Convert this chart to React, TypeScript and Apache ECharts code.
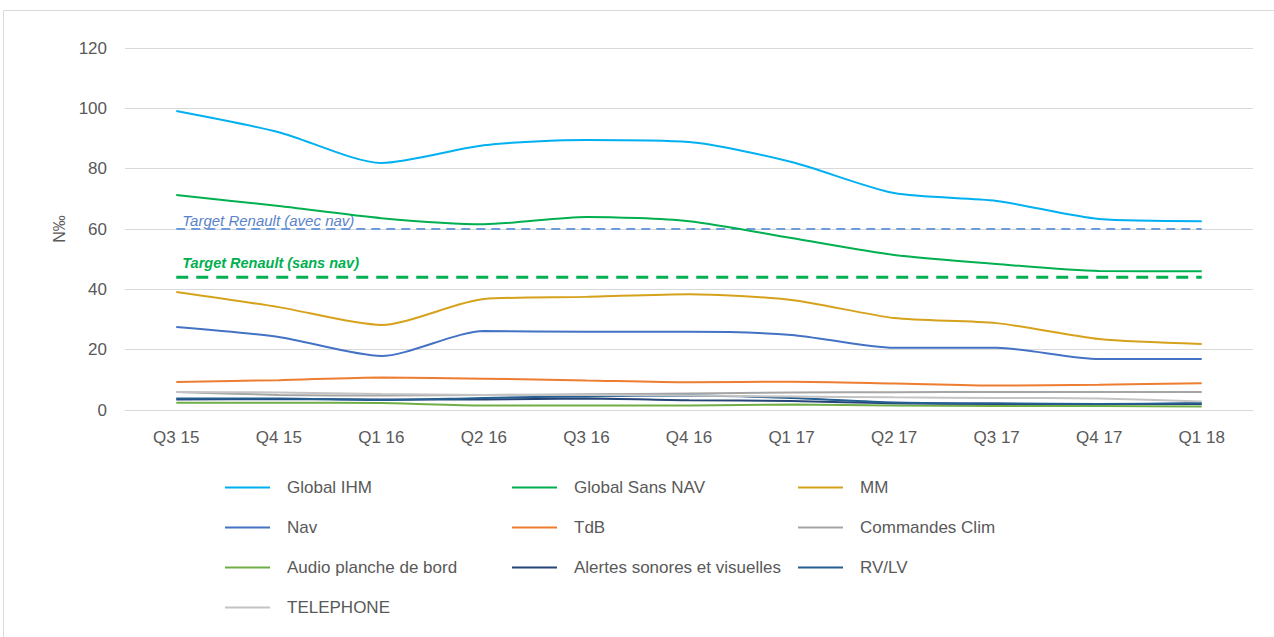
import React, { useEffect, useRef } from "react";
import * as echarts from "echarts";

const categories = ["Q3 15", "Q4 15", "Q1 16", "Q2 16", "Q3 16", "Q4 16", "Q1 17", "Q2 17", "Q3 17", "Q4 17", "Q1 18"];

const globalIHM = [99.1, 92.1, 81.9, 87.8, 89.5, 88.8, 82.2, 71.9, 69.3, 63.3, 62.6];
const globalSansNAV = [71.3, 67.6, 63.6, 61.6, 64.0, 62.6, 57.0, 51.4, 48.4, 46.1, 46.0];
const mm = [39.1, 34.1, 28.2, 36.8, 37.5, 38.4, 36.5, 30.5, 28.8, 23.5, 21.9];
const nav = [27.5, 24.2, 17.9, 26.2, 25.9, 25.9, 24.9, 20.6, 20.6, 16.9, 16.9];
const tdb = [9.3, 9.9, 10.8, 10.4, 9.8, 9.2, 9.4, 8.8, 8.1, 8.4, 8.9];
const commandesClim = [6.0, 5.0, 4.8, 5.0, 5.2, 5.5, 5.8, 5.9, 6.0, 6.0, 6.0];
const audio = [2.4, 2.4, 2.3, 1.5, 1.5, 1.5, 1.8, 1.5, 1.3, 1.3, 1.2];
const alertes = [3.5, 3.6, 3.5, 3.5, 3.8, 3.2, 3.0, 2.2, 2.0, 2.0, 2.0];
const rvlv = [3.8, 3.8, 3.3, 4.0, 4.5, 4.8, 4.0, 2.5, 2.2, 2.0, 2.3];
const telephone = [6.0, 5.8, 5.3, 5.0, 5.0, 4.8, 4.5, 4.2, 4.0, 3.8, 2.8];

const targetAvecNav = 60;
const targetSansNav = 44;
const targetAvecLabel = "Target Renault (avec nav)";
const targetSansLabel = "Target Renault (sans nav)";

const yTicks = { min: 0, max: 120, interval: 20 };

const legendCol1 = ["Global IHM", "Nav", "Audio planche de bord", "TELEPHONE"];
const legendCol2 = ["Global Sans NAV", "TdB", "Alertes sonores et visuelles"];
const legendCol3 = ["MM", "Commandes Clim", "RV/LV"];

const FONT = "'Liberation Sans', Arial, sans-serif";
const TXT = "#595959";

export default function App() {
  const ref = useRef<HTMLDivElement>(null);
  useEffect(() => {
    if (!ref.current) return;
    const chart = echarts.init(ref.current, null, { renderer: "svg" });
    const line = (name: string, data: number[], color: string, width = 2) => ({
      name,
      type: "line",
      data,
      smooth: 0.25,
      symbol: "none",
      lineStyle: { color, width },
      itemStyle: { color },
    });
    const target = (name: string, value: number, color: string, width: number, dash: number[]) => ({
      name,
      type: "line",
      symbol: "none",
      lineStyle: { color, width, type: dash },
      itemStyle: { color },
      data: categories.map(() => value),
      z: 1,
    });
    const legendBase = {
      orient: "vertical",
      icon: "rect",
      itemWidth: 45,
      itemHeight: 2,
      itemGap: 19,
      top: 477,
      padding: 0,
      textStyle: { color: TXT, fontSize: 17, fontFamily: FONT, padding: [0, 0, 0, 12], lineHeight: 21 },
    };
    const border = {
      type: "rect",
      shape: { x: 3.5, y: 10.5, width: 1290, height: 660 },
      style: { fill: "none", stroke: "#D9D9D9", lineWidth: 1 },
      silent: true,
    };
    chart.setOption({
      animation: false,
      backgroundColor: "#ffffff",
      graphic: [border],
      grid: { left: 125, right: 21, top: 48, bottom: 227 },
      legend: [
        { ...legendBase, left: 225, data: legendCol1 },
        { ...legendBase, left: 512, data: legendCol2 },
        { ...legendBase, left: 798, data: legendCol3 },
      ],
      xAxis: {
        type: "category",
        data: categories,
        boundaryGap: true,
        axisLine: { lineStyle: { color: "#D9D9D9", width: 1 } },
        axisTick: { show: false },
        axisLabel: { color: TXT, fontSize: 17, fontFamily: FONT, margin: 19 },
      },
      yAxis: {
        type: "value",
        min: yTicks.min,
        max: yTicks.max,
        interval: yTicks.interval,
        name: "N‰",
        nameLocation: "middle",
        nameGap: 58,
        nameRotate: 90,
        nameTextStyle: { color: TXT, fontSize: 16, fontFamily: FONT },
        axisLine: { show: false },
        axisTick: { show: false },
        axisLabel: { color: TXT, fontSize: 17, fontFamily: FONT, margin: 18 },
        splitLine: { lineStyle: { color: "#D9D9D9", width: 1 } },
      },
      series: [
        target(targetAvecLabel, targetAvecNav, "#6F9BDB", 2, [9, 6]),
        target(targetSansLabel, targetSansNav, "#00B050", 3, [12, 8]),
        line("Global IHM", globalIHM, "#00B0F0"),
        line("Global Sans NAV", globalSansNAV, "#00B050"),
        line("MM", mm, "#D6A21C"),
        line("Nav", nav, "#4472C4"),
        line("TdB", tdb, "#ED7D31"),
        line("Commandes Clim", commandesClim, "#A5A5A5"),
        line("Audio planche de bord", audio, "#70AD47"),
        line("Alertes sonores et visuelles", alertes, "#264478"),
        line("RV/LV", rvlv, "#255E91"),
        line("TELEPHONE", telephone, "#C4C4C4"),
      ],
    });
    const pA = chart.convertToPixel({ gridIndex: 0 }, [0, targetAvecNav]) as number[];
    const pS = chart.convertToPixel({ gridIndex: 0 }, [0, targetSansNav]) as number[];
    chart.setOption({
      graphic: [
        border,
        {
          type: "text",
          x: pA[0] + 6,
          y: pA[1] - 1,
          style: {
            text: targetAvecLabel,
            fill: "#5B83C9",
            font: `italic 15px ${FONT}`,
            textVerticalAlign: "bottom",
            verticalAlign: "bottom",
          },
          silent: true,
        },
        {
          type: "text",
          x: pS[0] + 6,
          y: pS[1] - 7,
          style: {
            text: targetSansLabel,
            fill: "#00B050",
            font: `italic bold 14.5px ${FONT}`,
            verticalAlign: "bottom",
          },
          silent: true,
        },
      ],
    });
    return () => chart.dispose();
  }, []);
  return (
    <div
      ref={ref}
      style={{ position: "fixed", left: 0, top: 0, width: 1274, height: 637 }}
    />
  );
}
